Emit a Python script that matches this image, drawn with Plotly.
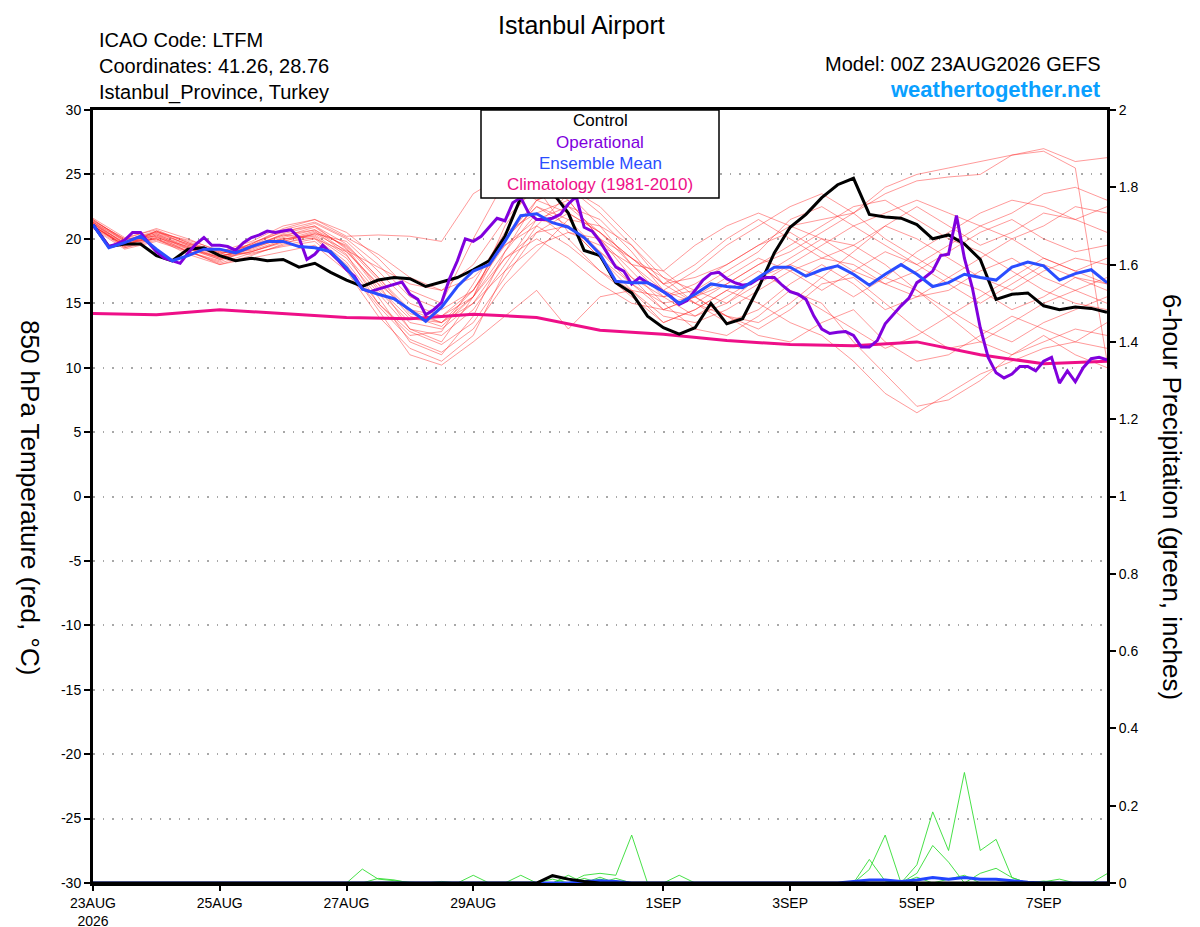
import pandas as pd
import plotly.graph_objects as go

# 850 hPa temperature (C), GEFS 00Z 23AUG2026, Istanbul Airport
control_temp = [21.1, 19.4, 19.6, 19.6, 18.7, 18.3, 19.2, 19.3, 18.7, 18.3, 18.5, 18.3, 18.4,
                17.8, 18.1, 17.4, 16.8, 16.3, 16.8, 17.0, 16.9, 16.3, 16.65, 17.0, 17.6, 18.3,
                20.2, 23.2, 24.0, 23.6, 22.0, 19.1, 18.7, 16.6, 15.8, 14.0, 13.1, 12.6, 13.1,
                15.0, 13.4, 13.8, 16.2, 18.9, 20.9, 21.9, 23.2, 24.2, 24.7, 21.9, 21.7, 21.6,
                21.1, 20.0, 20.3, 19.6, 18.4, 15.3, 15.7, 15.8, 14.8, 14.5, 14.7, 14.6, 14.3]

mean_temp = [21.1, 19.3, 19.7, 20.2, 19.2, 18.3, 18.7, 19.2, 19.2, 18.9, 19.4, 19.8, 19.8,
             19.4, 19.3, 19.0, 17.75, 16.1, 15.7, 15.35, 14.5, 13.6, 14.7, 16.3, 17.5, 18.0,
             19.8, 21.8, 21.95, 21.25, 20.9, 20.1, 18.8, 16.7, 16.6, 16.6, 15.9, 15.0, 15.7,
             16.5, 16.3, 16.2, 17.0, 17.8, 17.8, 17.1, 17.6, 17.9, 17.25, 16.4, 17.25, 18.0,
             17.25, 16.3, 16.6, 17.25, 17.0, 16.8, 17.8, 18.2, 17.9, 16.8, 17.3, 17.6, 16.6]

# operational run is 3-hourly
oper_temp = [21.1, 20.2, 19.4, 19.6, 19.9, 20.5, 20.5, 19.7, 19.0, 18.5, 18.3, 18.1,
             18.9, 19.6, 20.1, 19.5, 19.5, 19.4, 19.1, 19.7, 20.1, 20.3, 20.6, 20.5,
             20.6, 20.7, 20.1, 18.4, 18.8, 19.5, 18.9, 18.3, 17.6, 17.1, 16.1, 15.9,
             16.1, 16.3, 16.5, 16.65, 15.7, 15.3, 14.1, 14.5, 15.05, 16.9, 18.3, 20.0,
             19.8, 20.2, 20.9, 21.6, 21.4, 22.8, 23.2, 22.0, 21.5, 21.5, 21.6, 21.9,
             22.7, 23.3, 20.9, 20.6, 19.8, 18.8, 17.8, 17.5, 16.5, 17.0, 16.6, 16.3,
             15.9, 15.5, 14.9, 15.2, 16.0, 16.8, 17.3, 17.4, 16.9, 16.6, 16.4, 16.5,
             16.9, 17.0, 17.0, 16.4, 15.9, 15.7, 15.3, 14.0, 13.0, 12.65, 12.75, 12.8,
             12.5, 11.6, 11.6, 12.1, 13.4, 14.1, 14.8, 15.4, 16.6, 17.0, 17.5, 18.7,
             18.8, 21.8, 18.5, 16.2, 13.1, 10.8, 9.6, 9.2, 9.5, 10.1, 10.1, 9.75,
             10.5, 10.8, 8.8, 9.75, 8.9, 10.0, 10.7, 10.8, 10.6]

# climatology, one value per day
clim_temp = [14.2, 14.1, 14.5, 14.2, 13.9, 13.8, 14.15, 13.9, 12.9, 12.6, 12.1, 11.8,
             11.7, 12.0, 11.0, 10.3, 10.5]

# ensemble members, 12-hourly
members_temp = [
    [21.3, 19.6, 20.3, 19.2, 18.4, 19.0, 19.8, 20.5, 19.5, 17.0, 14.5, 13.5, 16.0, 20.0, 22.5, 21.5, 19.0,
     16.5, 14.5, 15.5, 17.0, 18.5, 17.5, 16.0, 17.5, 19.0, 18.0, 16.5, 15.0, 16.5, 18.0, 17.0, 16.0],
    [21.0, 19.4, 20.6, 19.5, 18.8, 19.6, 20.8, 21.5, 20.2, 20.3, 20.2, 19.8, 23.5, 25.0, 24.0, 20.5, 19.5,
     18.0, 17.5, 19.5, 21.0, 22.0, 21.0, 21.5, 22.0, 23.5, 24.5, 24.8, 25.0, 26.5, 27.0, 26.0, 26.3],
    [21.5, 19.8, 20.0, 18.8, 18.0, 18.5, 19.0, 19.5, 17.5, 14.0, 11.5, 10.5, 12.5, 17.5, 21.0, 23.5, 21.0,
     18.0, 15.5, 14.0, 15.5, 17.0, 18.5, 20.0, 19.5, 18.0, 16.0, 14.5, 13.0, 12.0, 13.5, 14.5, 15.5],
    [20.8, 19.2, 19.8, 19.0, 18.2, 19.3, 20.0, 20.2, 18.5, 15.5, 12.0, 11.0, 14.0, 19.0, 23.0, 24.0, 22.0,
     19.5, 16.5, 15.0, 14.0, 13.5, 15.0, 17.0, 19.0, 21.0, 22.5, 21.0, 19.5, 20.5, 22.0, 21.5, 22.5],
    [21.2, 19.7, 20.4, 19.6, 19.0, 18.8, 19.5, 20.0, 19.0, 16.5, 13.0, 12.0, 15.5, 21.0, 24.5, 23.0, 20.0,
     17.5, 15.0, 13.0, 12.5, 14.0, 16.0, 15.0, 12.0, 9.5, 7.0, 7.5, 9.0, 11.0, 12.5, 11.0, 10.0],
    [21.4, 20.0, 20.8, 20.0, 19.0, 19.8, 21.0, 21.5, 20.5, 18.5, 16.0, 15.0, 20.0, 24.5, 23.0, 22.0, 20.5,
     18.0, 16.0, 17.5, 19.5, 21.0, 22.5, 23.5, 22.0, 20.0, 18.5, 17.0, 18.5, 20.0, 21.0, 22.5, 22.0],
    [21.0, 19.5, 20.2, 19.4, 18.6, 19.4, 20.3, 20.0, 18.0, 14.5, 11.0, 10.2, 12.0, 14.0, 16.0, 13.0, 15.5,
     16.0, 14.0, 13.5, 14.5, 16.0, 17.5, 18.5, 18.0, 16.5, 15.5, 16.0, 17.5, 18.5, 17.0, 16.0, 17.0],
    [21.1, 19.3, 19.9, 19.1, 18.0, 18.7, 19.6, 20.4, 19.8, 17.5, 15.0, 14.0, 16.0, 19.5, 21.5, 22.5, 21.5,
     19.0, 16.0, 15.0, 16.5, 18.0, 19.5, 21.0, 22.5, 23.0, 21.5, 20.0, 19.0, 17.5, 16.0, 15.0, 14.5],
    [21.3, 19.9, 20.6, 19.8, 18.9, 19.1, 19.9, 20.6, 18.8, 15.0, 12.5, 12.8, 16.5, 20.5, 22.0, 20.0, 17.5,
     15.5, 13.5, 14.5, 16.0, 15.0, 13.5, 12.5, 10.5, 8.0, 6.5, 8.0, 9.5, 10.5, 11.5, 12.0, 11.5],
    [21.0, 19.6, 20.1, 19.3, 18.5, 19.5, 20.6, 21.0, 19.2, 16.0, 13.5, 13.0, 15.0, 18.5, 20.5, 21.0, 19.0,
     17.0, 15.5, 16.5, 18.0, 19.5, 20.5, 19.0, 17.5, 16.5, 17.5, 19.0, 20.5, 21.5, 20.0, 19.0, 19.5],
    [21.6, 20.1, 20.7, 19.7, 18.7, 19.0, 19.7, 20.1, 18.2, 15.0, 12.8, 11.8, 13.5, 17.0, 20.5, 22.0, 20.5,
     18.5, 17.0, 16.0, 15.0, 16.5, 18.0, 19.5, 21.0, 22.0, 23.0, 22.0, 21.0, 22.0, 23.5, 24.0, 23.0],
    [21.2, 19.4, 20.0, 19.0, 18.3, 19.7, 20.5, 21.2, 20.0, 18.0, 15.5, 14.5, 16.0, 20.0, 23.0, 24.0, 22.5,
     20.0, 17.5, 15.5, 14.0, 13.0, 14.5, 16.5, 17.0, 15.0, 13.0, 11.5, 12.0, 13.5, 15.0, 16.0, 15.0],
    [20.9, 19.5, 20.3, 19.5, 18.7, 19.2, 20.1, 20.7, 19.4, 16.8, 14.0, 13.2, 15.5, 19.0, 22.0, 23.0, 20.0,
     17.0, 14.5, 14.0, 15.0, 17.0, 18.0, 17.0, 15.5, 17.0, 19.0, 20.5, 22.0, 23.0, 22.5, 21.5, 20.5],
    [21.3, 19.8, 20.5, 19.9, 19.1, 19.4, 20.0, 20.3, 18.7, 15.8, 13.0, 12.5, 14.5, 18.0, 21.5, 21.0, 18.5,
     16.5, 15.0, 15.5, 14.0, 12.5, 12.0, 13.5, 14.5, 12.0, 10.5, 11.0, 12.5, 14.0, 13.0, 12.0, 13.5],
    [21.1, 19.7, 20.4, 19.3, 18.4, 19.3, 20.4, 21.0, 19.6, 17.0, 14.2, 13.5, 15.0, 17.5, 19.5, 20.5, 20.0,
     18.5, 16.5, 18.0, 20.0, 21.5, 20.0, 18.5, 19.5, 21.0, 20.0, 18.5, 17.0, 16.0, 17.5, 18.5, 18.0],
    [21.4, 20.0, 20.2, 19.0, 18.1, 18.9, 19.4, 19.8, 17.8, 14.8, 12.2, 11.2, 13.0, 16.5, 19.0, 21.5, 21.0,
     19.5, 17.0, 15.0, 13.5, 14.5, 16.5, 18.0, 16.5, 14.5, 15.5, 17.0, 16.0, 14.5, 15.5, 17.0, 16.5],
    [21.0, 19.5, 20.6, 19.7, 18.9, 19.6, 20.7, 21.3, 20.1, 18.8, 17.0, 16.0, 17.0, 19.5, 21.0, 19.5, 17.5,
     16.0, 15.5, 16.0, 17.5, 19.0, 21.5, 22.5, 21.0, 19.5, 18.0, 19.5, 21.0, 20.0, 18.5, 17.5, 18.5],
    [21.2, 19.6, 20.0, 19.2, 18.6, 19.4, 20.2, 20.9, 19.3, 16.2, 13.8, 13.5, 15.5, 20.0, 22.5, 21.0, 18.5,
     16.0, 13.5, 14.5, 16.0, 17.5, 16.0, 14.5, 13.0, 11.5, 12.5, 14.0, 15.5, 17.0, 18.5, 17.5, 16.5],
    [21.5, 19.9, 20.5, 19.6, 18.8, 19.5, 20.3, 20.7, 19.0, 16.5, 14.5, 14.0, 15.5, 18.5, 20.0, 18.5, 16.5,
     15.0, 14.5, 15.5, 16.5, 18.0, 19.0, 20.5, 22.0, 24.0, 25.0, 25.5, 26.0, 26.5, 26.8, 25.5, 10.5],
    [20.9, 19.3, 20.1, 19.4, 18.5, 19.0, 19.8, 20.4, 19.1, 17.8, 16.5, 16.0, 18.0, 21.5, 24.0, 22.5, 20.5,
     18.5, 16.5, 17.0, 18.0, 19.5, 21.0, 20.0, 18.5, 17.0, 16.0, 14.0, 12.0, 11.0, 12.0, 13.0, 12.5],
]

# 6-hour precipitation (inches), 6-hourly
members_precip = [
    [0, 0, 0, 0, 0, 0, 0, 0, 0, 0, 0, 0, 0, 0, 0, 0, 0, 0.036, 0.01, 0.006, 0.002, 0, 0.004, 0, 0, 0,
     0, 0, 0, 0, 0, 0.02, 0.025, 0.02, 0.124, 0, 0, 0, 0, 0, 0, 0, 0, 0, 0, 0, 0, 0, 0, 0.061, 0.005,
     0, 0, 0, 0, 0, 0, 0, 0, 0, 0.003, 0.01, 0, 0, 0],
    [0, 0, 0, 0, 0, 0, 0, 0, 0, 0, 0, 0, 0, 0, 0, 0, 0, 0, 0, 0, 0, 0, 0, 0, 0.02, 0, 0, 0.02, 0, 0,
     0.012, 0, 0.015, 0, 0, 0, 0, 0.02, 0, 0, 0, 0, 0, 0, 0, 0, 0, 0, 0, 0.035, 0.124, 0, 0.047, 0.184,
     0.084, 0.286, 0.084, 0.113, 0.014, 0, 0, 0, 0, 0, 0],
    [0, 0, 0, 0, 0, 0, 0, 0, 0, 0, 0, 0, 0, 0, 0, 0, 0, 0, 0.012, 0.008, 0, 0, 0, 0, 0, 0, 0, 0, 0, 0,
     0, 0, 0, 0, 0, 0, 0, 0, 0, 0, 0, 0, 0, 0, 0, 0, 0, 0, 0, 0, 0, 0, 0.025, 0.097, 0.054, 0, 0.025,
     0.038, 0.014, 0, 0, 0, 0, 0, 0.024],
    [0, 0, 0, 0, 0, 0, 0, 0, 0, 0, 0, 0, 0, 0, 0, 0, 0, 0, 0, 0, 0, 0, 0, 0, 0, 0, 0, 0, 0, 0.01, 0,
     0.012, 0, 0.012, 0, 0, 0, 0, 0, 0, 0, 0, 0, 0, 0, 0, 0, 0, 0, 0, 0, 0, 0, 0, 0.01, 0.02, 0, 0, 0,
     0, 0.005, 0, 0, 0, 0],
    [0, 0, 0, 0, 0, 0, 0, 0, 0, 0, 0, 0, 0, 0, 0, 0, 0, 0, 0, 0, 0, 0, 0, 0, 0, 0, 0, 0, 0, 0, 0.02,
     0, 0.01, 0, 0, 0, 0, 0, 0, 0, 0, 0, 0, 0, 0, 0, 0, 0, 0, 0, 0, 0, 0.015, 0, 0, 0, 0, 0, 0, 0, 0,
     0, 0, 0, 0],
]

control_precip = [0] * 29 + [0.019, 0.01, 0.004] + [0] * 33
mean_precip = [0] * 31 + [0.004, 0.006, 0.004] + [0] * 14 + [0.004, 0.008, 0.008, 0.004, 0.008,
               0.014, 0.01, 0.014, 0.01, 0.01, 0.006, 0.002] + [0] * 5

# axis ticks
x_tick_dates = ['2026-08-23', '2026-08-25', '2026-08-27', '2026-08-29', '2026-09-01',
                '2026-09-03', '2026-09-05', '2026-09-07']
x_tick_labels = ['23AUG<br>2026', '25AUG', '27AUG', '29AUG', '1SEP', '3SEP', '5SEP', '7SEP']
temp_ticks = [30, 25, 20, 15, 10, 5, 0, -5, -10, -15, -20, -25, -30]
temp_tick_labels = ['30', '25', '20', '15', '10', '5', '0', '-5', '-10', '-15', '-20', '-25', '-30']

start = '2026-08-23'
t6 = pd.date_range(start, periods=len(control_temp), freq='6h')
t3 = pd.date_range(start, periods=len(oper_temp), freq='3h')
t12 = pd.date_range(start, periods=len(members_temp[0]), freq='12h')
t24 = pd.date_range(start, periods=len(clim_temp), freq='24h')

FONT = 'Liberation Sans, Arial, sans-serif'

fig = go.Figure()

for m in members_temp:
    fig.add_trace(go.Scatter(x=t12, y=m, mode='lines', line=dict(color='rgba(255,30,30,0.5)', width=0.9),
                             hoverinfo='skip'))

for p in members_precip:
    fig.add_trace(go.Scatter(x=t6[:len(p)], y=p, mode='lines', yaxis='y2',
                             line=dict(color='#33dd33', width=0.9), hoverinfo='skip'))

fig.add_trace(go.Scatter(x=t6[:len(mean_precip)], y=mean_precip, mode='lines', yaxis='y2',
                         line=dict(color='#2244ff', width=3)))
fig.add_trace(go.Scatter(x=t6[:len(control_precip)], y=control_precip, mode='lines', yaxis='y2',
                         line=dict(color='black', width=3)))

fig.add_trace(go.Scatter(x=t24, y=clim_temp, mode='lines', line=dict(color='#ee0f88', width=3),
                         name='Climatology (1981-2010)'))
fig.add_trace(go.Scatter(x=t6, y=control_temp, mode='lines', line=dict(color='black', width=3),
                         name='Control'))
fig.add_trace(go.Scatter(x=t3, y=oper_temp, mode='lines', line=dict(color='#8000dd', width=3),
                         name='Operational'))
fig.add_trace(go.Scatter(x=t6, y=mean_temp, mode='lines', line=dict(color='#2a4dff', width=3),
                         name='Ensemble Mean'))


# pixel -> paper helpers (plot area is 93..1107 x 110..883 on screen)
def px(x):
    return (x - 93) / 1014


def py(y):
    return (883 - y) / 773


# legend box drawn by hand (text only, like the original)
fig.add_shape(type='rect', xref='paper', yref='paper', x0=px(481), x1=px(719), y0=py(198), y1=1,
              fillcolor='white', line=dict(color='black', width=1.5), layer='above')
legend_items = [('Control', 'black'), ('Operational', '#8000dd'), ('Ensemble Mean', '#2a4dff'),
                ('Climatology (1981-2010)', '#ee0f88')]
for i, (txt, col) in enumerate(legend_items):
    fig.add_annotation(x=0.5, y=py(121 + 21.3 * i), xref='paper', yref='paper', text=txt,
                       showarrow=False, xanchor='center', yanchor='middle',
                       font=dict(size=17, color=col, family=FONT))

texts = [
    ('Istanbul Airport', px(581), py(25), 'center', 25, 'black'),
    ('ICAO Code: LTFM', px(98), py(40), 'left', 20, 'black'),
    ('Coordinates: 41.26, 28.76', px(98), py(66), 'left', 20, 'black'),
    ('Istanbul_Province, Turkey', px(98), py(93), 'left', 20, 'black'),
    ('Model: 00Z 23AUG2026 GEFS', px(1102), py(64), 'right', 20, 'black'),
    ('<b>weathertogether.net</b>', px(1102), py(89), 'right', 22, '#0aa0ff'),
]
for txt, x, y, anchor, size, col in texts:
    fig.add_annotation(x=x, y=y, xref='paper', yref='paper', text=txt, showarrow=False, borderpad=0,
                       xanchor=anchor, yanchor='middle', font=dict(size=size, color=col, family=FONT))

fig.add_annotation(x=px(30), y=py(497), xref='paper', yref='paper', text='850 hPa Temperature (red, °C)',
                   showarrow=False, textangle=90, xanchor='center', yanchor='middle',
                   font=dict(size=26, color='black', family=FONT))
fig.add_annotation(x=px(1172), y=py(497), xref='paper', yref='paper',
                   text='6-hour Precipitation (green, inches)', xanchor='center', yanchor='middle',
                   showarrow=False, textangle=90, font=dict(size=26, color='black', family=FONT))

# page body adds an 8px offset, so margins are shifted to compensate
fig.update_layout(
    width=1200, height=927,
    margin=dict(l=85, r=101, t=102, b=52, autoexpand=False),
    paper_bgcolor='white', plot_bgcolor='white',
    showlegend=False,
    font=dict(family=FONT, size=14, color='black'),
    xaxis=dict(type='date', range=[t6[0], t6[-1]], tickvals=x_tick_dates, ticktext=x_tick_labels,
               ticks='outside', ticklen=5, tickwidth=1.5, tickcolor='black', showgrid=False,
               showline=True, linewidth=3, linecolor='black', mirror=True, automargin=False,
               tickfont=dict(size=14), zeroline=False),
    yaxis=dict(range=[-30, 30], tickvals=temp_ticks, ticktext=temp_tick_labels, ticks='outside',
               ticklen=6, tickwidth=1.5, tickcolor='black', showline=True, linewidth=3,
               linecolor='black', showgrid=True, gridcolor='#a8a8a8', griddash='1.5px,8px', gridwidth=1.5,
               zeroline=False, automargin=False, tickfont=dict(size=14)),
    yaxis2=dict(range=[0, 2], dtick=0.2, overlaying='y', side='right', ticks='outside', ticklen=6,
                tickwidth=1.5, tickcolor='black', showline=True, linewidth=3, linecolor='black',
                showgrid=False, zeroline=False, automargin=False, tickfont=dict(size=14)),
)

fig.write_html('out.html')
